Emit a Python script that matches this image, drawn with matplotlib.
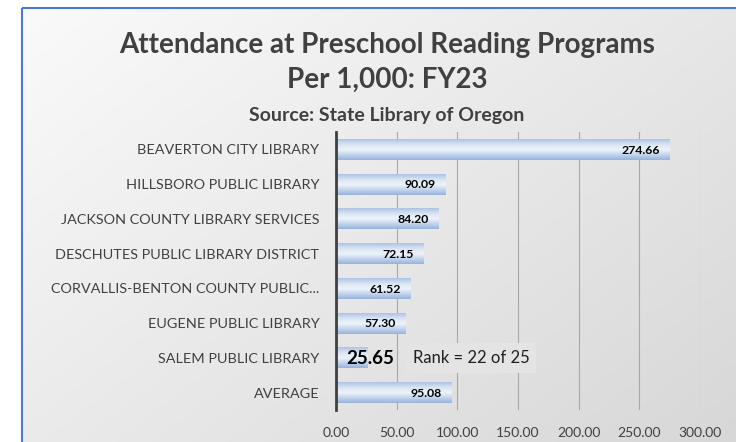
import numpy as np
import matplotlib
matplotlib.use("Agg")
import matplotlib.pyplot as plt
from matplotlib.patches import Rectangle

# data
libraries = ["BEAVERTON CITY LIBRARY", "HILLSBORO PUBLIC LIBRARY",
             "JACKSON COUNTY LIBRARY SERVICES", "DESCHUTES PUBLIC LIBRARY DISTRICT",
             "CORVALLIS-BENTON COUNTY PUBLIC...", "EUGENE PUBLIC LIBRARY",
             "SALEM PUBLIC LIBRARY", "AVERAGE"]
attendance = [274.66, 90.09, 84.20, 72.15, 61.52, 57.30, 25.65, 95.08]
highlight = "SALEM PUBLIC LIBRARY"
rank_note = "Rank = 22 of 25"
x_ticks = [0, 50, 100, 150, 200, 250, 300]

plt.rcParams['font.family'] = ['Lato', 'DejaVu Sans']

W, H = 736, 442
fig = plt.figure(figsize=(W / 100, H / 100), dpi=100)
fig.patch.set_facecolor("white")

# chart area background with soft gradient and blue border
bg = fig.add_axes([0, 0, 1, 1], zorder=-10)
bg.set_xlim(0, W)
bg.set_ylim(H, 0)
bg.axis("off")
gx, gy = np.meshgrid(np.linspace(0, 1, 200), np.linspace(0, 1, 200))
grad = 0.55 * gx + 0.45 * gy
bg.imshow(grad, extent=(22, W + 20, H + 20, 8), cmap=matplotlib.colors.LinearSegmentedColormap.from_list(
    "bg", ["#fafafa", "#d6d6d6"]), aspect="auto", interpolation="bilinear")
bg.add_patch(Rectangle((22, 8), W, H, fill=False, edgecolor="#4a7bd0", linewidth=1.5))

ax = fig.add_axes([336 / W, 1 - 410 / H, 364 / W, 278 / H])
ax.set_facecolor("none")

y = np.arange(len(libraries))
bar_h = 0.6
bar_cmap = matplotlib.colors.LinearSegmentedColormap.from_list(
    "bar", ["#aec4e6", "#d9e4f3", "#eef3fa", "#c4d5ee", "#98b3dc"])
grad_bar = np.linspace(0, 1, 50).reshape(-1, 1)
for yi, val, name in zip(y, attendance, libraries):
    ax.imshow(grad_bar, extent=(0, val, yi + bar_h / 2, yi - bar_h / 2), cmap=bar_cmap,
              aspect="auto", interpolation="bilinear", zorder=2)
    if name == highlight:
        ax.text(8.5, yi + 0.02, f"{val:.2f}", ha="left", va="center", fontsize=13.5,
                fontweight="bold", color="black", zorder=4)
        ax.text(63.5, yi, rank_note, ha="left", va="center", fontsize=12, color="#202020", zorder=4,
                bbox=dict(boxstyle="square,pad=0.4", facecolor="#e4e4e4", edgecolor="none"))
    else:
        ax.text(val - 8, yi + 0.02, f"{val:.2f}", ha="right", va="center", fontsize=8.8,
                fontweight="bold", color="black", zorder=4)

ax.set_xlim(0, 300)
ax.set_ylim(len(libraries) - 0.5, -0.5)
ax.set_yticks(y)
ax.set_yticklabels(libraries, fontsize=10.4, color="#404040")
ax.set_xticks(x_ticks)
ax.set_xticklabels([f"{t:.2f}" for t in x_ticks], fontsize=10, color="#404040")
ax.tick_params(axis="both", length=0)
ax.tick_params(axis="y", pad=12)
ax.tick_params(axis="x", pad=12.5)
ax.grid(axis="x", color="#a8a8a8", linewidth=0.8, zorder=0)
ax.set_axisbelow(True)
for s in ["top", "right", "bottom"]:
    ax.spines[s].set_visible(False)
ax.spines["left"].set_color("#404040")
ax.spines["left"].set_linewidth(2)
ax.spines["left"].set_zorder(5)

tx = 387 / W
fig.text(tx, 1 - 45 / H, "Attendance at Preschool Reading Programs", ha="center", va="center",
         fontsize=20, fontweight="bold", color="#404040")
fig.text(tx, 1 - 80 / H, "Per 1,000: FY23", ha="center", va="center",
         fontsize=20, fontweight="bold", color="#404040")
fig.text(tx, 1 - 115 / H, "Source: State Library of Oregon", ha="center", va="center",
         fontsize=14, fontweight="bold", color="#404040")

fig.savefig("out.png", dpi=100)
